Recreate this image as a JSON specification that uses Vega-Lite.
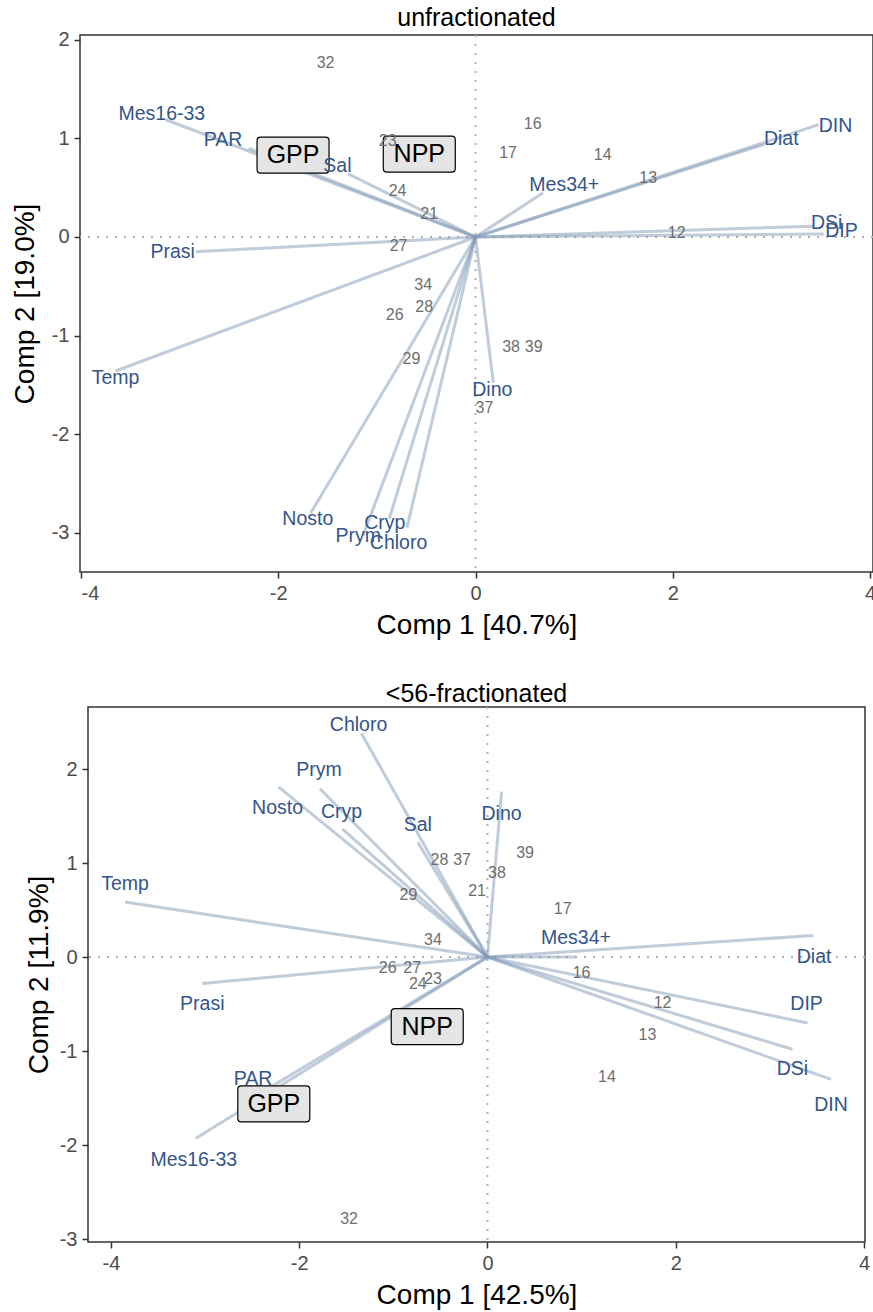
{
  "$schema": "https://vega.github.io/schema/vega-lite/v6.json",
  "padding": {"left": 10, "top": 5, "right": 0, "bottom": 0},
  "background": "white",
  "config": {
    "font": "Liberation Sans",
    "view": {"stroke": "#333333", "strokeWidth": 1.5},
    "axis": {"grid": false, "domain": false, "ticks": true, "tickColor": "#333333", "tickWidth": 1.5, "tickSize": 6, "labelFontSize": 20, "labelColor": "#4d4d4d", "labelPadding": 5, "titleFontSize": 28, "titleFontWeight": "normal", "titleColor": "#000000", "labelExpr": "'' + datum.value"},
    "title": {"fontSize": 25, "fontWeight": "normal", "color": "#000000", "offset": -1}
  },
  "datasets": {
    "zero": [{"v": 0}],
    "vars1": [
      {"name": "Mes16-33", "x": -3.14, "y": 1.19},
      {"name": "PAR", "x": -2.30, "y": 0.90},
      {"name": "Sal", "x": -1.29, "y": 0.64},
      {"name": "Prasi", "x": -2.835, "y": -0.15},
      {"name": "Temp", "x": -3.65, "y": -1.36},
      {"name": "Nosto", "x": -1.67, "y": -2.80},
      {"name": "Prym", "x": -1.14, "y": -3.03},
      {"name": "Cryp", "x": -0.875, "y": -2.86},
      {"name": "Chloro", "x": -0.695, "y": -2.95},
      {"name": "Dino", "x": 0.18, "y": -1.48},
      {"name": "Mes34+", "x": 0.685, "y": 0.45},
      {"name": "Diat", "x": 2.93, "y": 0.94},
      {"name": "DIN", "x": 3.48, "y": 1.14},
      {"name": "DSi", "x": 3.43, "y": 0.11},
      {"name": "DIP", "x": 3.53, "y": 0.03}
    ],
    "labs1": [
      {"name": "Mes16-33", "x": -3.18, "y": 1.25},
      {"name": "PAR", "x": -2.56, "y": 0.98},
      {"name": "Sal", "x": -1.40, "y": 0.72},
      {"name": "Prasi", "x": -3.07, "y": -0.15},
      {"name": "Temp", "x": -3.65, "y": -1.43},
      {"name": "Nosto", "x": -1.70, "y": -2.86},
      {"name": "Prym", "x": -1.19, "y": -3.03},
      {"name": "Cryp", "x": -0.92, "y": -2.90},
      {"name": "Chloro", "x": -0.78, "y": -3.11},
      {"name": "Dino", "x": 0.17, "y": -1.55},
      {"name": "Mes34+", "x": 0.90, "y": 0.53},
      {"name": "Diat", "x": 3.10, "y": 0.99},
      {"name": "DIN", "x": 3.65, "y": 1.13},
      {"name": "DSi", "x": 3.56, "y": 0.14},
      {"name": "DIP", "x": 3.71, "y": 0.06}
    ],
    "samp1": [
      {"id": "32", "x": -1.52, "y": 1.77},
      {"id": "23", "x": -0.89, "y": 0.97},
      {"id": "24", "x": -0.79, "y": 0.47},
      {"id": "21", "x": -0.47, "y": 0.23},
      {"id": "27", "x": -0.78, "y": -0.09},
      {"id": "34", "x": -0.53, "y": -0.49},
      {"id": "28", "x": -0.52, "y": -0.71},
      {"id": "26", "x": -0.82, "y": -0.79},
      {"id": "29", "x": -0.65, "y": -1.24},
      {"id": "16", "x": 0.58, "y": 1.15},
      {"id": "17", "x": 0.33, "y": 0.85},
      {"id": "14", "x": 1.29, "y": 0.83},
      {"id": "13", "x": 1.75, "y": 0.60},
      {"id": "12", "x": 2.04, "y": 0.04},
      {"id": "38", "x": 0.36, "y": -1.12},
      {"id": "39", "x": 0.59, "y": -1.12},
      {"id": "37", "x": 0.09, "y": -1.74}
    ],
    "sup1": [
      {"name": "GPP", "x": -1.85, "y": 0.83},
      {"name": "NPP", "x": -0.57, "y": 0.84}
    ],
    "vars2": [
      {"name": "Chloro", "x": -1.34, "y": 2.38},
      {"name": "Prym", "x": -1.78, "y": 1.79},
      {"name": "Nosto", "x": -2.22, "y": 1.81},
      {"name": "Cryp", "x": -1.54, "y": 1.36},
      {"name": "Sal", "x": -0.74, "y": 1.22},
      {"name": "Dino", "x": 0.15, "y": 1.76},
      {"name": "Temp", "x": -3.85, "y": 0.585},
      {"name": "Prasi", "x": -3.03, "y": -0.28},
      {"name": "PAR", "x": -2.30, "y": -1.38},
      {"name": "Mes16-33", "x": -3.10, "y": -1.93},
      {"name": "Mes34+", "x": 0.945, "y": 0.0},
      {"name": "Diat", "x": 3.46, "y": 0.23},
      {"name": "DIP", "x": 3.40, "y": -0.70},
      {"name": "DSi", "x": 3.24, "y": -0.98},
      {"name": "DIN", "x": 3.65, "y": -1.30}
    ],
    "labs2": [
      {"name": "Chloro", "x": -1.37, "y": 2.47},
      {"name": "Prym", "x": -1.79, "y": 1.99},
      {"name": "Nosto", "x": -2.23, "y": 1.59},
      {"name": "Cryp", "x": -1.55, "y": 1.54},
      {"name": "Sal", "x": -0.74, "y": 1.41},
      {"name": "Dino", "x": 0.15, "y": 1.52},
      {"name": "Temp", "x": -3.85, "y": 0.78},
      {"name": "Prasi", "x": -3.03, "y": -0.50},
      {"name": "PAR", "x": -2.49, "y": -1.30},
      {"name": "Mes16-33", "x": -3.12, "y": -2.16},
      {"name": "Mes34+", "x": 0.94, "y": 0.20},
      {"name": "Diat", "x": 3.47, "y": 0.0},
      {"name": "DIP", "x": 3.39, "y": -0.50},
      {"name": "DSi", "x": 3.24, "y": -1.19},
      {"name": "DIN", "x": 3.65, "y": -1.57}
    ],
    "samp2": [
      {"id": "28", "x": -0.51, "y": 1.03},
      {"id": "37", "x": -0.27, "y": 1.03},
      {"id": "21", "x": -0.11, "y": 0.70},
      {"id": "29", "x": -0.84, "y": 0.66},
      {"id": "34", "x": -0.58, "y": 0.18},
      {"id": "39", "x": 0.40, "y": 1.11},
      {"id": "38", "x": 0.10, "y": 0.89},
      {"id": "17", "x": 0.80, "y": 0.51},
      {"id": "16", "x": 1.00, "y": -0.17},
      {"id": "12", "x": 1.86, "y": -0.49},
      {"id": "13", "x": 1.70, "y": -0.83},
      {"id": "14", "x": 1.27, "y": -1.28},
      {"id": "26", "x": -1.06, "y": -0.12},
      {"id": "27", "x": -0.80, "y": -0.12},
      {"id": "23", "x": -0.58, "y": -0.23},
      {"id": "24", "x": -0.74, "y": -0.29},
      {"id": "32", "x": -1.47, "y": -2.79}
    ],
    "sup2": [
      {"name": "GPP", "x": -2.27, "y": -1.56},
      {"name": "NPP", "x": -0.64, "y": -0.74}
    ]
  },
  "bounds": "flush",
  "center": true,
  "spacing": 135,
  "vconcat": [
    {
      "width": 793,
      "height": 537,
      "title": {"text": "unfractionated"},
      "layer": [
        {
          "data": {"name": "zero"},
          "mark": {"type": "rule", "color": "#b0b0b0", "strokeWidth": 2, "strokeDash": [2, 7]},
          "encoding": {
            "x": {"field": "v", "type": "quantitative", "scale": {"domain": [-4.01, 4.03], "nice": false, "zero": false}, "axis": {"title": "Comp 1 [40.7%]", "values": [-4, -2, 0, 2, 4], "titlePadding": 8}}
          }
        },
        {
          "data": {"name": "zero"},
          "mark": {"type": "rule", "color": "#b0b0b0", "strokeWidth": 2, "strokeDash": [2, 7]},
          "encoding": {
            "y": {"field": "v", "type": "quantitative", "scale": {"domain": [-3.40, 2.05], "nice": false, "zero": false}, "axis": {"title": "Comp 2 [19.0%]", "values": [-3, -2, -1, 0, 1, 2], "titlePadding": 12}}
          }
        },
        {
          "data": {"name": "vars1"},
          "mark": {"type": "rule", "color": "#8199b5", "opacity": 0.5, "strokeWidth": 3},
          "encoding": {
            "x": {"field": "x", "type": "quantitative", "scale": {"domain": [-4.01, 4.03], "nice": false, "zero": false}, "axis": {"title": "Comp 1 [40.7%]", "values": [-4, -2, 0, 2, 4], "titlePadding": 8}},
            "y": {"field": "y", "type": "quantitative", "scale": {"domain": [-3.40, 2.05], "nice": false, "zero": false}, "axis": {"title": "Comp 2 [19.0%]", "values": [-3, -2, -1, 0, 1, 2], "titlePadding": 12}},
            "x2": {"datum": 0},
            "y2": {"datum": 0}
          }
        },
        {
          "data": {"name": "sup1"},
          "mark": {"type": "point", "shape": "M-0.9,-0.5L0.9,-0.5Q1,-0.5,1,-0.4L1,0.4Q1,0.5,0.9,0.5L-0.9,0.5Q-1,0.5,-1,0.4L-1,-0.4Q-1,-0.5,-0.9,-0.5Z", "size": 5184, "filled": true, "fill": "#e5e5e5", "stroke": "#000000", "strokeWidth": 1.2, "opacity": 1},
          "encoding": {
            "x": {"field": "x", "type": "quantitative", "scale": {"domain": [-4.01, 4.03], "nice": false, "zero": false}, "axis": {"title": "Comp 1 [40.7%]", "values": [-4, -2, 0, 2, 4], "titlePadding": 8}},
            "y": {"field": "y", "type": "quantitative", "scale": {"domain": [-3.40, 2.05], "nice": false, "zero": false}, "axis": {"title": "Comp 2 [19.0%]", "values": [-3, -2, -1, 0, 1, 2], "titlePadding": 12}}
          }
        },
        {
          "data": {"name": "sup1"},
          "mark": {"type": "text", "fontSize": 25, "color": "#000000"},
          "encoding": {
            "x": {"field": "x", "type": "quantitative", "scale": {"domain": [-4.01, 4.03], "nice": false, "zero": false}, "axis": {"title": "Comp 1 [40.7%]", "values": [-4, -2, 0, 2, 4], "titlePadding": 8}},
            "y": {"field": "y", "type": "quantitative", "scale": {"domain": [-3.40, 2.05], "nice": false, "zero": false}, "axis": {"title": "Comp 2 [19.0%]", "values": [-3, -2, -1, 0, 1, 2], "titlePadding": 12}},
            "text": {"field": "name"}
          }
        },
        {
          "data": {"name": "samp1"},
          "mark": {"type": "text", "fontSize": 16, "color": "#6e6e6e"},
          "encoding": {
            "x": {"field": "x", "type": "quantitative", "scale": {"domain": [-4.01, 4.03], "nice": false, "zero": false}, "axis": {"title": "Comp 1 [40.7%]", "values": [-4, -2, 0, 2, 4], "titlePadding": 8}},
            "y": {"field": "y", "type": "quantitative", "scale": {"domain": [-3.40, 2.05], "nice": false, "zero": false}, "axis": {"title": "Comp 2 [19.0%]", "values": [-3, -2, -1, 0, 1, 2], "titlePadding": 12}},
            "text": {"field": "id"}
          }
        },
        {
          "data": {"name": "labs1"},
          "mark": {"type": "text", "fontSize": 19.5, "color": "#34558b"},
          "encoding": {
            "x": {"field": "x", "type": "quantitative", "scale": {"domain": [-4.01, 4.03], "nice": false, "zero": false}, "axis": {"title": "Comp 1 [40.7%]", "values": [-4, -2, 0, 2, 4], "titlePadding": 8}},
            "y": {"field": "y", "type": "quantitative", "scale": {"domain": [-3.40, 2.05], "nice": false, "zero": false}, "axis": {"title": "Comp 2 [19.0%]", "values": [-3, -2, -1, 0, 1, 2], "titlePadding": 12}},
            "text": {"field": "name"}
          }
        }
      ]
    },
    {
      "width": 777,
      "height": 535,
      "title": {"text": "<56-fractionated"},
      "layer": [
        {
          "data": {"name": "zero"},
          "mark": {"type": "rule", "color": "#b0b0b0", "strokeWidth": 2, "strokeDash": [2, 7]},
          "encoding": {
            "x": {"field": "v", "type": "quantitative", "scale": {"domain": [-4.244, 4.011], "nice": false, "zero": false}, "axis": {"title": "Comp 1 [42.5%]", "values": [-4, -2, 0, 2, 4], "titlePadding": 8}}
          }
        },
        {
          "data": {"name": "zero"},
          "mark": {"type": "rule", "color": "#b0b0b0", "strokeWidth": 2, "strokeDash": [2, 7]},
          "encoding": {
            "y": {"field": "v", "type": "quantitative", "scale": {"domain": [-3.03, 2.66], "nice": false, "zero": false}, "axis": {"title": "Comp 2 [11.9%]", "values": [-3, -2, -1, 0, 1, 2], "titlePadding": 6}}
          }
        },
        {
          "data": {"name": "vars2"},
          "mark": {"type": "rule", "color": "#8199b5", "opacity": 0.5, "strokeWidth": 3},
          "encoding": {
            "x": {"field": "x", "type": "quantitative", "scale": {"domain": [-4.244, 4.011], "nice": false, "zero": false}, "axis": {"title": "Comp 1 [42.5%]", "values": [-4, -2, 0, 2, 4], "titlePadding": 8}},
            "y": {"field": "y", "type": "quantitative", "scale": {"domain": [-3.03, 2.66], "nice": false, "zero": false}, "axis": {"title": "Comp 2 [11.9%]", "values": [-3, -2, -1, 0, 1, 2], "titlePadding": 6}},
            "x2": {"datum": 0},
            "y2": {"datum": 0}
          }
        },
        {
          "data": {"name": "sup2"},
          "mark": {"type": "point", "shape": "M-0.9,-0.5L0.9,-0.5Q1,-0.5,1,-0.4L1,0.4Q1,0.5,0.9,0.5L-0.9,0.5Q-1,0.5,-1,0.4L-1,-0.4Q-1,-0.5,-0.9,-0.5Z", "size": 5184, "filled": true, "fill": "#e5e5e5", "stroke": "#000000", "strokeWidth": 1.2, "opacity": 1},
          "encoding": {
            "x": {"field": "x", "type": "quantitative", "scale": {"domain": [-4.244, 4.011], "nice": false, "zero": false}, "axis": {"title": "Comp 1 [42.5%]", "values": [-4, -2, 0, 2, 4], "titlePadding": 8}},
            "y": {"field": "y", "type": "quantitative", "scale": {"domain": [-3.03, 2.66], "nice": false, "zero": false}, "axis": {"title": "Comp 2 [11.9%]", "values": [-3, -2, -1, 0, 1, 2], "titlePadding": 6}}
          }
        },
        {
          "data": {"name": "sup2"},
          "mark": {"type": "text", "fontSize": 25, "color": "#000000"},
          "encoding": {
            "x": {"field": "x", "type": "quantitative", "scale": {"domain": [-4.244, 4.011], "nice": false, "zero": false}, "axis": {"title": "Comp 1 [42.5%]", "values": [-4, -2, 0, 2, 4], "titlePadding": 8}},
            "y": {"field": "y", "type": "quantitative", "scale": {"domain": [-3.03, 2.66], "nice": false, "zero": false}, "axis": {"title": "Comp 2 [11.9%]", "values": [-3, -2, -1, 0, 1, 2], "titlePadding": 6}},
            "text": {"field": "name"}
          }
        },
        {
          "data": {"name": "samp2"},
          "mark": {"type": "text", "fontSize": 16, "color": "#6e6e6e"},
          "encoding": {
            "x": {"field": "x", "type": "quantitative", "scale": {"domain": [-4.244, 4.011], "nice": false, "zero": false}, "axis": {"title": "Comp 1 [42.5%]", "values": [-4, -2, 0, 2, 4], "titlePadding": 8}},
            "y": {"field": "y", "type": "quantitative", "scale": {"domain": [-3.03, 2.66], "nice": false, "zero": false}, "axis": {"title": "Comp 2 [11.9%]", "values": [-3, -2, -1, 0, 1, 2], "titlePadding": 6}},
            "text": {"field": "id"}
          }
        },
        {
          "data": {"name": "labs2"},
          "mark": {"type": "text", "fontSize": 19.5, "color": "#34558b"},
          "encoding": {
            "x": {"field": "x", "type": "quantitative", "scale": {"domain": [-4.244, 4.011], "nice": false, "zero": false}, "axis": {"title": "Comp 1 [42.5%]", "values": [-4, -2, 0, 2, 4], "titlePadding": 8}},
            "y": {"field": "y", "type": "quantitative", "scale": {"domain": [-3.03, 2.66], "nice": false, "zero": false}, "axis": {"title": "Comp 2 [11.9%]", "values": [-3, -2, -1, 0, 1, 2], "titlePadding": 6}},
            "text": {"field": "name"}
          }
        }
      ]
    }
  ]
}
